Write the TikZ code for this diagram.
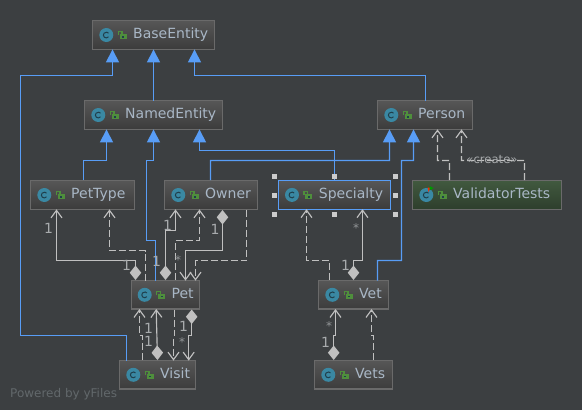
\documentclass[tikz,border=0pt]{standalone}
\usepackage{fontspec}
\setmainfont{DejaVu Sans}
\usetikzlibrary{arrows.meta,calc}
\definecolor{bg}{HTML}{3C3F41}
\definecolor{blueln}{HTML}{589DF6}
\definecolor{greyln}{HTML}{C0C0C0}
\definecolor{lbltxt}{HTML}{A8ABAD}
\definecolor{txt}{HTML}{A9B7C6}
\definecolor{boxedge}{HTML}{6A6A6A}
\definecolor{icon}{HTML}{3A88A3}
\definecolor{icondark}{HTML}{1F3F4C}
\definecolor{lock}{HTML}{4F8F3C}
\definecolor{wm}{HTML}{62686B}
\definecolor{handle}{HTML}{CCCCCC}
\tikzset{
  x=1pt,y=-1pt,
  klass/.style={draw=boxedge,line width=1.2pt,top color=#1!100,bottom color=#1!70!black,
    inner sep=0pt,outer sep=0pt,anchor=north west,text=txt,font=\fontsize{14}{16}\selectfont},
  klass/.default={565656},
  inh/.style={draw=blueln,line width=1.15pt,-{Triangle[length=13pt,width=13pt,fill=blueln]}},
  dep/.style={draw=greyln,line width=1.15pt,dash pattern=on 7pt off 3pt,-{Straight Barb[length=7.5pt,width=11pt]}},
  asc/.style={draw=greyln,line width=1.15pt,{Diamond[length=14.5pt,width=11.5pt,fill=greyln]}-{Straight Barb[length=7.5pt,width=11pt]}},
  lbl/.style={text=lbltxt,inner sep=0pt,font=\fontsize{14}{16}\selectfont},
  star/.style={text=lbltxt!80!bg,inner sep=0pt,font=\fontsize{12}{14}\selectfont},
  hnd/.style={fill=handle,draw=none},
}
\definecolor{klassgrey}{HTML}{565656}
\definecolor{klassgreen}{HTML}{41593F}
% #1 colour/edge options, #2 name, #3 x1, #4 y1, #5 x2, #6 y2, #7 text
\newcommand\klassbox[7][]{%
  \node[klass=klassgrey,minimum width={#5-#3},minimum height={#6-#4},#1] (#2) at (#3,#4)
    {\pgfmathsetmacro\kw{#5-#3}\makebox[\kw pt][l]{\hspace{40.4pt}\raisebox{-0.8pt}{\vphantom{Ay}#7}}};
  \fill[icon] ([shift={(13.5,0)}]#2.west) circle (7);
  \draw[icondark,line width=1pt] ([shift={(15.7,1.9)}]#2.west) arc[start angle=40,delta angle=280,radius=2.9];
  \fill[lock] ([shift={(26.9,-0.8)}]#2.west) rectangle ([shift={(33.7,4.2)}]#2.west);
  \fill[icondark] ([shift={(29.3,1.2)}]#2.west) rectangle ([shift={(31.3,2.6)}]#2.west);
  \draw[lock,line width=1.2pt] ([shift={(25.5,0)}]#2.west) -- ([shift={(25.5,-3.6)}]#2.west) -- ([shift={(29.1,-3.6)}]#2.west) -- ([shift={(29.1,-0.6)}]#2.west);
}
\begin{document}
\begin{tikzpicture}
\useasboundingbox (0,0) rectangle (582,410);
\fill[bg] (0,0) rectangle (582,410);

\node[text=wm,anchor=base west,inner sep=0pt,font=\fontsize{12}{14}\selectfont] (wmark) at (10,397) {Powered by yFiles};

\klassbox{base}{92.8}{20.6}{214.2}{49.4}{BaseEntity}
\klassbox{named}{84.8}{100.6}{222.2}{129.4}{NamedEntity}
\klassbox{pettype}{30.8}{180.6}{134.2}{209.4}{PetType}
\klassbox{owner}{164.8}{180.6}{257.2}{209.4}{Owner}
\klassbox[draw=blueln]{spec}{278.5}{180.6}{390.3}{209.2}{Specialty}
\klassbox{person}{377.8}{100.6}{472.4}{129.4}{Person}
\klassbox[top color=klassgreen,bottom color=klassgreen!70!black]{vtests}{412.8}{180.6}{561.2}{209.4}{ValidatorTests}
\fill[red!70!orange] ([shift={(14.8,-7.5)}]vtests.west) -- ([shift={(17.8,-7.5)}]vtests.west) -- ([shift={(15.8,-3)}]vtests.west) -- cycle;
\fill[green!60!black] ([shift={(16.8,-9)}]vtests.west) -- ([shift={(20.8,-6.8)}]vtests.west) -- ([shift={(16.8,-4.6)}]vtests.west) -- cycle;
\klassbox{pet}{131.2}{280.6}{199.2}{309}{Pet}
\klassbox{visit}{119.8}{360.6}{195.8}{389}{Visit}
\klassbox{vet}{318.8}{280.6}{388.8}{309}{Vet}
\klassbox{vets}{314.8}{360.6}{392.2}{389}{Vets}

% inheritance
\draw[inh] ([xshift=-31.3]visit.north) -- (126.5,335.5) -- (20.5,335.5) -- (20.5,75.5) -- (112.5,75.5) -- ([xshift=-41]base.south);
\draw[inh] (named.north -| base.south) -- (base.south);
\draw[inh] ([xshift=0.6]person.north) -- (425.7,75.5) -- (194.5,75.5) -- ([xshift=41]base.south);
\draw[inh] (83.5,180) -- (83.5,160.5) -- (106.5,160.5) -- ([xshift=-47]named.south);
\draw[inh] ([xshift=-9.5]pet.north) -- (155.7,240.5) -- (146.5,240.5) -- (146.5,160.5) -- (153.5,160.5) -- (named.south);
\draw[inh] (334.5,180.5) -- (334.5,150.5) -- (199.5,150.5) -- ([xshift=46]named.south);
\draw[inh] (210.5,180) -- (210.5,160.5) -- (389.5,160.5) -- ([xshift=-35.6]person.south);
\draw[inh] ([xshift=23.7]vet.north) -- (377.5,260.5) -- (401.5,260.5) -- (401.5,160.5) -- (413.5,160.5) -- ([xshift=-11.6]person.south);

% ValidatorTests -> Person
\draw[dep] (449.5,180) -- (449.5,160.5) -- (437.5,160.5) -- ([xshift=12.4]person.south);
\draw[dep] (524.5,180) -- (524.5,160.5) -- (461.5,160.5) -- ([xshift=36.4]person.south);
\node[text=lbltxt,inner sep=0pt,font=\fontsize{11.6}{14}\selectfont] (create) at (492,160) {«create»};

% Pet -- PetType
\draw[dep] ([shift={(14.5,0)}]pet.north west) -- (145.7,250.5) -- (109.5,250.5) -- ([xshift=27]pettype.south);
\draw[asc] (135.5,280) -- (135.5,260.5) -- (56.5,260.5) -- ([xshift=-26]pettype.south);
\node[lbl] (l1) at (48.5,228.5) {1};
\node[lbl] (l2) at (126.5,265.5) {1};

% Pet -- Owner
\draw[asc] (165.5,280) -- (165.5,230.5) -- (175.5,230.5) -- ([xshift=-35.5]owner.south);
\draw[dep] (175.5,280) -- (175.5,240.5) -- (199.5,240.5) -- ([xshift=-11.5]owner.south);
\draw[asc] (222.5,210) -- (222.5,250.5) -- (185.5,250.5) -- ([xshift=20.3]pet.north);
\draw[dep] (246.5,209.5) -- (246.5,260.5) -- (195.5,260.5) -- ([xshift=30.3]pet.north);
\node[lbl] (l3) at (167.7,225) {1};
\node[lbl] (l4) at (156.5,261) {1};
\node[lbl] (l5) at (215,229) {1};
\node[star] (s1) at (178,260.5) {*};

% Pet -- Visit
\draw[dep] (142.5,360) -- (142.5,335.5) -- (139.5,335.5) -- ([xshift=-25.7]pet.south);
\draw[asc] (157.5,360) -- ([xshift=-9]pet.south);
\draw[dep] (174.5,309.5) -- (174.5,335.5) -- (173.5,335.5) -- ([xshift=15.7]visit.north);
\draw[asc] (191.7,309.5) -- (191.7,335.5) -- (188.7,335.5) -- ([xshift=30.9]visit.north);
\node[lbl] (l6) at (148.5,328.5) {1};
\node[lbl] (l7) at (148.5,341) {1};
\node[lbl] (l8) at (183.5,326.5) {1};
\node[star] (s2) at (182,342.5) {*};

% Vet -- Specialty
\draw[dep] (329.5,280) -- (329.5,260.5) -- (306.5,260.5) -- ([xshift=-27.9]spec.south);
\draw[asc] (353.5,280) -- (353.5,260.5) -- (362.5,260.5) -- ([xshift=28.1]spec.south);
\node[star] (s3) at (356,228.5) {*};
\node[lbl] (l9) at (345.5,265.5) {1};

% Vets -- Vet
\draw[asc] (333.7,360) -- (333.7,335.5) -- (335.5,335.5) -- ([xshift=-18.3]vet.south);
\draw[dep] (373.5,360) -- (373.5,335.5) -- (371.5,335.5) -- ([xshift=17.7]vet.south);
\node[star] (s4) at (329,326.5) {*};
\node[lbl] (l10) at (325.5,342.5) {1};

% selection handles
\foreach \hx/\hy in {274/176.5,274/195.5,274/214.5,334.5/176.5,334.5/214.5,395.5/176.5,395.5/195.5,395.5/214.5}
  \fill[hnd] (\hx-2.5,\hy-2.5) rectangle (\hx+2.5,\hy+2.5);
\end{tikzpicture}
\end{document}
